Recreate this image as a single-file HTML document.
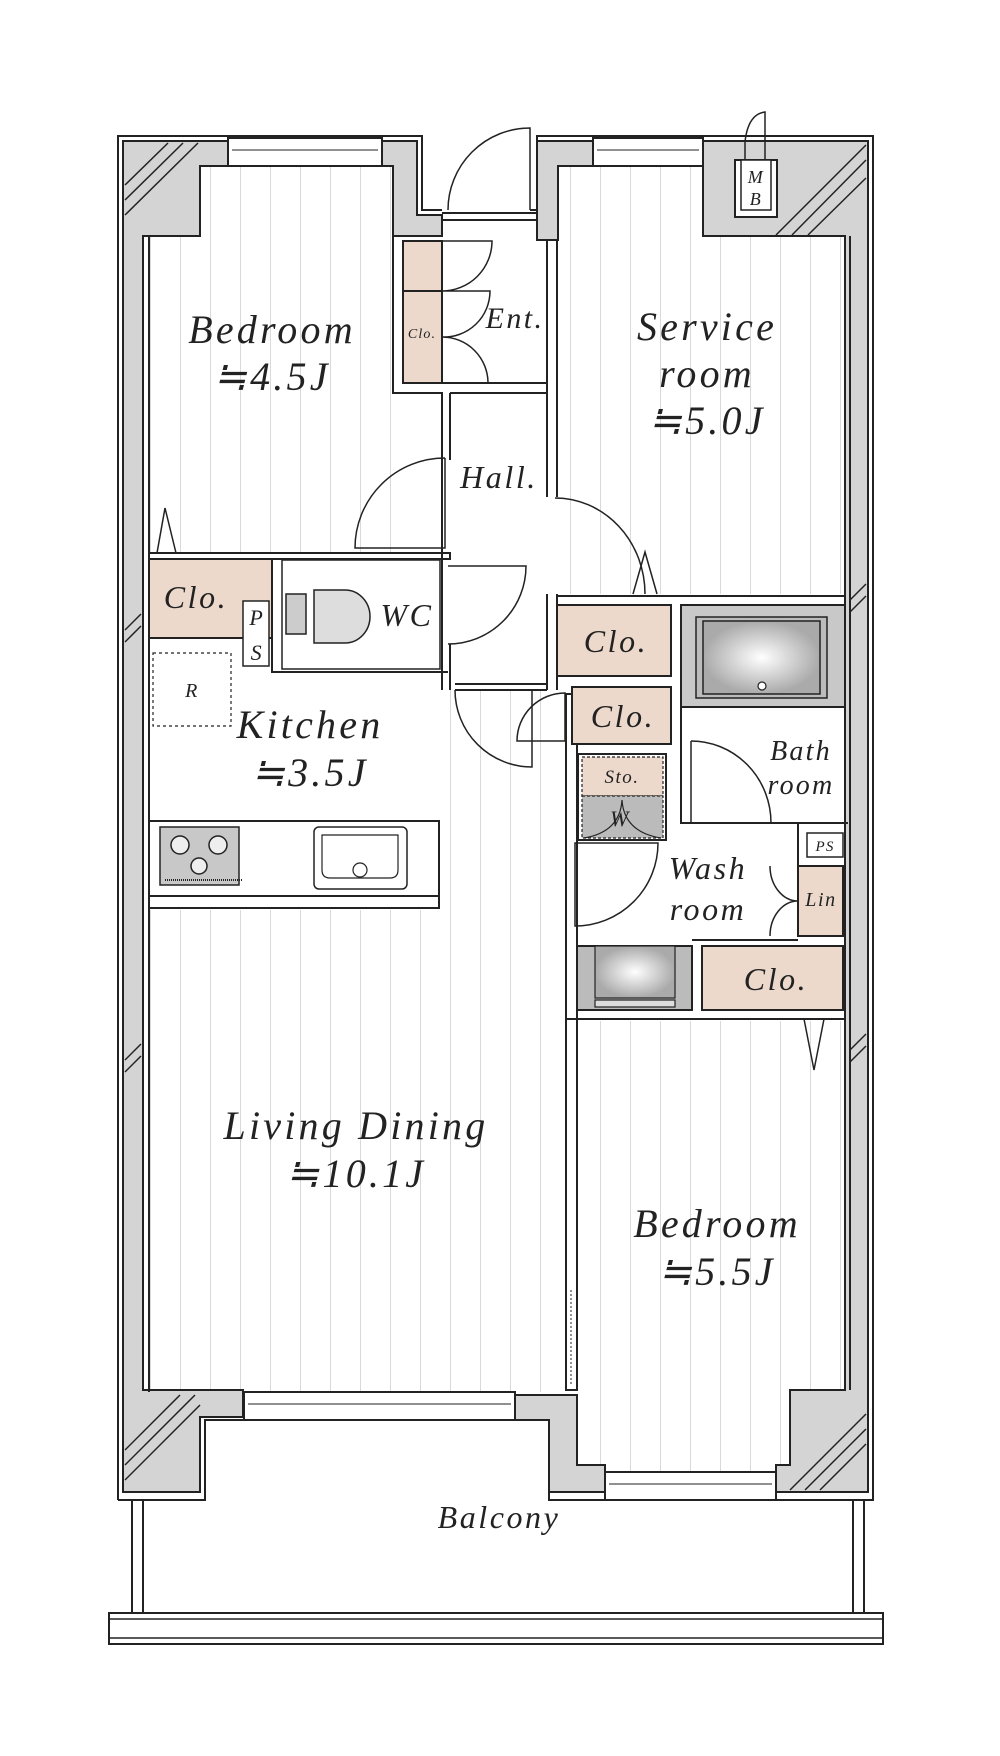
<!DOCTYPE html>
<html><head><meta charset="utf-8"><style>
html,body{margin:0;padding:0;background:#fff}
svg{display:block}
text{font-family:"Liberation Serif",serif;font-style:italic;fill:#222;text-anchor:middle;letter-spacing:0.08em}
</style></head><body>
<svg width="1000" height="1756" viewBox="0 0 1000 1756" xmlns="http://www.w3.org/2000/svg">
<defs>
<pattern id="fl" x="0" y="0" width="30" height="10" patternUnits="userSpaceOnUse"><line x1="0.5" y1="0" x2="0.5" y2="10" stroke="#d9d9d9" stroke-width="1"/></pattern>
<radialGradient id="tub"><stop offset="0" stop-color="#fff"/><stop offset="1" stop-color="#aaa"/></radialGradient>
</defs>
<g stroke="#222" stroke-width="2" fill="none">
<rect x="150" y="166" width="243" height="387" fill="url(#fl)" stroke="none"/>
<rect x="558" y="166" width="287" height="428" fill="url(#fl)" stroke="none"/>
<rect x="150" y="910" width="416" height="482" fill="url(#fl)" stroke="none"/>
<rect x="450" y="690" width="116" height="220" fill="url(#fl)" stroke="none"/>
<rect x="577" y="1021" width="268" height="451" fill="url(#fl)" stroke="none"/>

<path d="M118,1500 V136 H422 V210 H442"/>
<path d="M530,210 H537 V136 H873 V1500 H605"/>
<path d="M118,1500 H205 V1420 H244"/>
<path d="M515,1420 H549 V1500 H605"/>

<polygon fill="#d4d4d4" points="123,141 228,141 228,166 200,166 200,236 143,236 143,1390 243,1390 243,1417 200,1417 200,1492 123,1492"/>
<polygon fill="#d4d4d4" points="382,141 417,141 417,215 442,215 442,236 393,236 393,166 382,166"/>
<polygon fill="#d4d4d4" points="537,141 593,141 593,166 558,166 558,240 537,240"/>
<polygon fill="#d4d4d4" points="703,141 868,141 868,1492 776,1492 776,1465 790,1465 790,1390 845,1390 845,236 703,236"/>
<polygon fill="#d4d4d4" points="515,1395 577,1395 577,1465 605,1465 605,1492 549,1492 549,1420 515,1420"/>

<g stroke-width="1.5">
<line x1="125" y1="185" x2="168" y2="143"/><line x1="125" y1="200" x2="183" y2="143"/><line x1="125" y1="215" x2="198" y2="143"/>
<line x1="776" y1="235" x2="866" y2="145"/><line x1="792" y1="235" x2="866" y2="160"/><line x1="808" y1="235" x2="866" y2="178"/>
<line x1="125" y1="1450" x2="180" y2="1395"/><line x1="125" y1="1465" x2="195" y2="1395"/><line x1="125" y1="1480" x2="200" y2="1405"/>
<line x1="790" y1="1490" x2="866" y2="1414"/><line x1="805" y1="1490" x2="866" y2="1429"/><line x1="820" y1="1490" x2="866" y2="1444"/>
<line x1="850" y1="600" x2="866" y2="584"/><line x1="850" y1="612" x2="866" y2="596"/>
<line x1="850" y1="1050" x2="866" y2="1034"/><line x1="850" y1="1062" x2="866" y2="1046"/>
<line x1="125" y1="630" x2="141" y2="614"/><line x1="125" y1="642" x2="141" y2="626"/>
<line x1="125" y1="1060" x2="141" y2="1044"/><line x1="125" y1="1072" x2="141" y2="1056"/>
</g>
<line x1="149" y1="236" x2="149" y2="1392"/>
<line x1="850" y1="236" x2="850" y2="1390"/>

<g fill="#fff"><rect x="228" y="138" width="154" height="28"/><rect x="593" y="138" width="110" height="28"/>
<rect x="244" y="1392" width="271" height="28"/><rect x="605" y="1472" width="171" height="28"/></g>
<g stroke-width="1"><line x1="232" y1="150" x2="378" y2="150"/><line x1="597" y1="150" x2="699" y2="150"/>
<line x1="248" y1="1404" x2="511" y2="1404"/><line x1="609" y1="1484" x2="772" y2="1484"/></g>

<rect x="735" y="160" width="42" height="57" fill="#fff"/>
<rect x="741" y="160" width="30" height="50" fill="#fff" stroke-width="1.5"/>
<path d="M745,160 V142 Q748,114 765,112 V160" stroke-width="1.5"/>

<path d="M448,210 A82,82 0 0 1 530,128 V210" stroke-width="1.5"/>
<line x1="442" y1="213" x2="537" y2="213"/>
<line x1="442" y1="220" x2="537" y2="220"/>

<path d="M393,236 V393 H442 V553"/>
<line x1="450" y1="393" x2="450" y2="460"/>
<line x1="547" y1="240" x2="547" y2="497"/><line x1="557" y1="240" x2="557" y2="497"/>
<line x1="547" y1="594" x2="547" y2="690"/><line x1="557" y1="594" x2="557" y2="690"/>
<rect x="403" y="241" width="39" height="50" fill="#ecd9cc"/>
<rect x="403" y="291" width="39" height="92" fill="#ecd9cc"/>
<line x1="442" y1="383" x2="547" y2="383"/><line x1="450" y1="393" x2="547" y2="393"/>
<path d="M442,241 H492 A50,50 0 0 1 442,291 H490 A46,46 0 0 1 442,337 A46,46 0 0 1 488,383" stroke-width="1.5"/>
<path d="M445,458 V548 H355 A90,90 0 0 1 445,458" stroke-width="1.5"/>
<rect x="149" y="553" width="301" height="6" fill="#fff"/>
<path d="M157,553 L165,508 L176,553" stroke-width="1.5"/>
<rect x="149" y="559" width="123" height="79" fill="#ecd9cc"/>
<rect x="243" y="601" width="26" height="65" fill="#fff" stroke-width="1.5"/>
<path d="M272,559 V672 H448" />
<rect x="282" y="560" width="158" height="109" stroke-width="1.5"/>
<rect x="286" y="594" width="20" height="40" fill="#ccc" stroke-width="1.5"/>
<path d="M314,590 H345 A25,26.5 0 0 1 345,643 H314 Z" fill="#ddd" stroke-width="1.5"/>
<line x1="442" y1="553" x2="442" y2="690"/><line x1="450" y1="644" x2="450" y2="690"/>
<path d="M448,566 H526 A78,78 0 0 1 448,644" stroke-width="1.5"/>
<rect x="153" y="653" width="78" height="73" stroke-dasharray="3,3" stroke-width="1.2"/>
<line x1="455" y1="684" x2="547" y2="684"/><line x1="455" y1="690" x2="547" y2="690"/>
<path d="M455,690 A77,77 0 0 0 532,767 V690" stroke-width="1.5"/>
<rect x="149" y="821" width="290" height="87" fill="#fff"/>
<line x1="149" y1="896" x2="439" y2="896"/>
<rect x="160" y="827" width="79" height="58" fill="#c8c8c8" stroke-width="1.5"/>
<g stroke-width="1.5" fill="#eee"><circle cx="180" cy="845" r="9"/><circle cx="218" cy="845" r="9"/><circle cx="199" cy="866" r="8"/></g>
<line x1="165" y1="880" x2="243" y2="880" stroke-dasharray="1,1"/>
<rect x="314" y="827" width="93" height="62" rx="5" fill="#fff" stroke-width="1.5"/>
<path d="M322,835 H398 V870 Q398,878 390,878 H330 Q322,878 322,870 Z" stroke-width="1.2"/>
<circle cx="360" cy="870" r="7" stroke-width="1.2"/>
<rect x="566" y="694" width="11" height="696" fill="#fff"/>
<line x1="571" y1="1290" x2="571" y2="1385" stroke-dasharray="2,2" stroke-width="1"/>
<path d="M555,498 A90,96 0 0 1 645,594" stroke-width="1.5"/>
<path d="M633,594 L645,552 L657,594" stroke-width="1.5"/>
<line x1="557" y1="596" x2="845" y2="596"/>
<rect x="557" y="605" width="114" height="71" fill="#ecd9cc"/>
<rect x="572" y="687" width="99" height="57" fill="#ecd9cc"/>
<path d="M565,741 H517 A48,48 0 0 1 565,693 V741" stroke-width="1.5"/>
<rect x="681" y="605" width="164" height="102" fill="#c8c8c8"/>
<rect x="696" y="617" width="131" height="81" fill="#bbb" stroke-width="1.5"/>
<rect x="703" y="621" width="117" height="73" fill="url(#tub)" stroke-width="1.5"/>
<circle cx="762" cy="686" r="4" fill="#fff" stroke-width="1.2"/>
<path d="M681,707 V823 H848"/>
<path d="M691,741 A80,82 0 0 1 771,823" stroke-width="1.5"/><line x1="691" y1="741" x2="691" y2="823" stroke-width="1.5"/>
<rect x="578" y="754" width="88" height="86"/>
<rect x="582" y="757" width="81" height="39" fill="#ecd9cc" stroke-dasharray="3,2" stroke-width="1.2"/>
<rect x="582" y="796" width="81" height="42" fill="#bbb" stroke-dasharray="3,2" stroke-width="1.2"/>
<path d="M584,838 Q620,832 622,800 Q624,832 661,838" stroke-width="1.2"/>
<path d="M575,843 H658 A83,83 0 0 1 575,926 Z" stroke-width="1.5"/>
<rect x="807" y="833" width="36" height="24" fill="#fff" stroke-width="1.5"/>
<rect x="798" y="866" width="45" height="70" fill="#ecd9cc"/>
<path d="M770,866 A28,35 0 0 0 798,901 A28,35 0 0 0 770,936" stroke-width="1.5"/>
<line x1="798" y1="823" x2="798" y2="936"/>
<path d="M692,940 H798"/>
<rect x="577" y="946" width="115" height="64" fill="#bbb"/>
<rect x="595" y="946" width="80" height="52" fill="url(#tub)" stroke-width="1.2"/>
<rect x="595" y="1000" width="80" height="7" fill="#ddd" stroke-width="1.2"/>
<rect x="702" y="946" width="141" height="64" fill="#ecd9cc"/>
<line x1="566" y1="1019" x2="845" y2="1019"/>
<path d="M804,1019 L814,1070 L824,1019" stroke-width="1.5"/>
<rect x="132" y="1500" width="11" height="113" fill="#fff"/>
<rect x="853" y="1500" width="11" height="113" fill="#fff"/>
<rect x="109" y="1613" width="774" height="31" fill="#fff"/>
<line x1="109" y1="1619" x2="883" y2="1619" stroke-width="1.5"/>
<line x1="109" y1="1638" x2="883" y2="1638" stroke-width="1.5"/>
</g>

<text x="756" y="183" font-size="18">M</text>
<text x="756" y="205" font-size="18">B</text>
<text x="272" y="343" font-size="40">Bedroom</text>
<text x="272" y="390" font-size="40">≒4.5J</text>
<text x="422" y="338" font-size="14">Clo.</text>
<text x="515" y="328" font-size="30">Ent.</text>
<text x="707" y="340" font-size="40">Service</text>
<text x="707" y="387" font-size="40">room</text>
<text x="707" y="434" font-size="40">≒5.0J</text>
<text x="499" y="488" font-size="32">Hall.</text>
<text x="196" y="608" font-size="32">Clo.</text>
<text x="257" y="625" font-size="22">P</text>
<text x="257" y="660" font-size="22">S</text>
<text x="407" y="626" font-size="32">WC</text>
<text x="192" y="697" font-size="20">R</text>
<text x="310" y="738" font-size="40">Kitchen</text>
<text x="310" y="786" font-size="40">≒3.5J</text>
<text x="616" y="652" font-size="32">Clo.</text>
<text x="623" y="727" font-size="32">Clo.</text>
<text x="622" y="783" font-size="19">Sto.</text>
<text x="620" y="826" font-size="22">W</text>
<text x="801" y="760" font-size="28">Bath</text>
<text x="801" y="794" font-size="28">room</text>
<text x="825" y="851" font-size="15">PS</text>
<text x="708" y="879" font-size="32">Wash</text>
<text x="708" y="920" font-size="32">room</text>
<text x="821" y="906" font-size="20">Lin</text>
<text x="776" y="990" font-size="32">Clo.</text>
<text x="356" y="1139" font-size="40">Living Dining</text>
<text x="356" y="1187" font-size="40">≒10.1J</text>
<text x="717" y="1237" font-size="40">Bedroom</text>
<text x="717" y="1285" font-size="40">≒5.5J</text>
<text x="499" y="1528" font-size="32">Balcony</text>
</svg>
</body></html>
